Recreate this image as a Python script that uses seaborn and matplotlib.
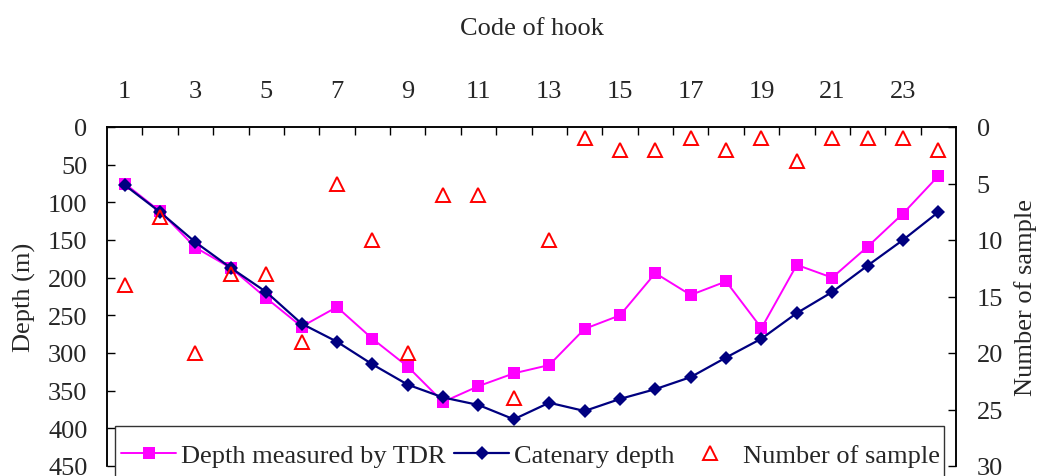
import numpy as np
import pandas as pd
import matplotlib
matplotlib.use("Agg")
import matplotlib.pyplot as plt
from matplotlib.patches import Rectangle
import seaborn as sns

# ---- data ----
hooks = list(range(1, 25))
tdr_depth = [75, 112, 160, 187, 227, 265, 239, 281, 318, 365, 344, 327,
             316, 268, 250, 194, 223, 205, 267, 183, 200, 159, 115, 65]
catenary_depth = [77, 113, 153, 187, 219, 261, 285, 315, 342, 359, 369, 388,
                  366, 377, 361, 348, 332, 306, 281, 247, 219, 184, 150, 113]
n_sample = [14, 8, 20, 13, 13, 19, 5, 10, 20, 6, 6, 24,
            10, 1, 2, 2, 1, 2, 1, 3, 1, 1, 1, 2]
top_tick_labels = [1, 3, 5, 7, 9, 11, 13, 15, 17, 19, 21, 23]
depth_ticks = [0, 50, 100, 150, 200, 250, 300, 350, 400, 450]
sample_ticks = [0, 5, 10, 15, 20, 25, 30]

lab_tdr = "Depth measured by TDR"
lab_cat = "Catenary depth"
lab_n = "Number of sample"

df = pd.DataFrame({"hook": hooks, "tdr": tdr_depth,
                   "cat": catenary_depth, "n": n_sample})

sns.set_theme(style="white")
plt.rcParams["font.family"] = ["Liberation Serif", "DejaVu Serif"]
FS = 19
plt.rcParams["font.size"] = FS

fig = plt.figure(figsize=(10.4, 4.77), dpi=100)
W, H = 1040, 477
ax = fig.add_axes([107 / W, 1 - 467 / H, (956 - 107) / W, (467 - 128) / H])
ax2 = ax.twinx()

sns.lineplot(data=df, x="hook", y="tdr", ax=ax, color="#FF00FF",
             marker="s", markersize=9, markeredgewidth=0, linewidth=1.4,
             label=lab_tdr, zorder=3)
sns.lineplot(data=df, x="hook", y="cat", ax=ax, color="#000080",
             marker="D", markersize=6.8, markeredgewidth=0, linewidth=1.6,
             label=lab_cat, zorder=4)
sns.lineplot(data=df, x="hook", y="n", ax=ax2, color="red",
             marker="^", markersize=9.5, markerfacecolor="none",
             markeredgecolor="red", markeredgewidth=1.4, linestyle="none",
             label=lab_n, zorder=5)

h1, l1 = ax.get_legend_handles_labels()
h2, l2 = ax2.get_legend_handles_labels()
for a in (ax, ax2):
    if a.get_legend() is not None:
        a.get_legend().remove()

# axes ranges
ax.set_xlim(0.5, 24.5)
ax.set_ylim(450, 0)
ax2.set_ylim(30, 0)

# top x axis
ax.xaxis.tick_top()
ax.xaxis.set_label_position("top")
ax.set_xticks(top_tick_labels)
ax.set_xticklabels([str(v) for v in top_tick_labels])
ax.set_xticks([h + 0.5 for h in hooks[:-1]], minor=True)
ax.tick_params(axis="x", which="major", length=0, pad=18, labelsize=FS)
ax.tick_params(axis="x", which="minor", top=True, bottom=False,
               direction="in", length=6, width=1, color="black")
ax.set_xlabel("Code of hook", fontsize=FS, labelpad=33)

# left y axis
ax.set_yticks(depth_ticks)
ax.tick_params(axis="y", which="major", left=True, direction="in",
               length=6, width=1, color="black", pad=14, labelsize=FS)
ax.set_ylabel("Depth (m)", fontsize=FS, labelpad=9)

# right y axis
ax2.set_yticks(sample_ticks)
ax2.tick_params(axis="y", which="major", right=True, direction="in",
                length=6, width=1, color="black", pad=15, labelsize=FS)
ax2.set_ylabel("Number of sample", fontsize=FS, labelpad=8)

for a in (ax, ax2):
    a.spines["bottom"].set_visible(False)
    for s in ("left", "right", "top"):
        a.spines[s].set_color("black")
        a.spines[s].set_linewidth(1.1)

# legend frame (extends past the lower edge of the figure, as in the reference)
frame = Rectangle((115 / W, 1 - 495 / H), (944 - 115) / W, (495 - 427) / H,
                  transform=fig.transFigure, facecolor="white",
                  edgecolor="#333333", linewidth=1.0, zorder=4)
fig.patches.append(frame)

leg = fig.legend(h1 + h2, l1 + l2, loc="center left",
                 bbox_to_anchor=(121 / W, 1 - 456 / H), ncol=3,
                 frameon=False, fontsize=FS, handlelength=2.1,
                 handletextpad=0.19, columnspacing=0.3,
                 borderpad=0, borderaxespad=0)
leg.set_zorder(5)

fig.savefig("out.png", dpi=100)
